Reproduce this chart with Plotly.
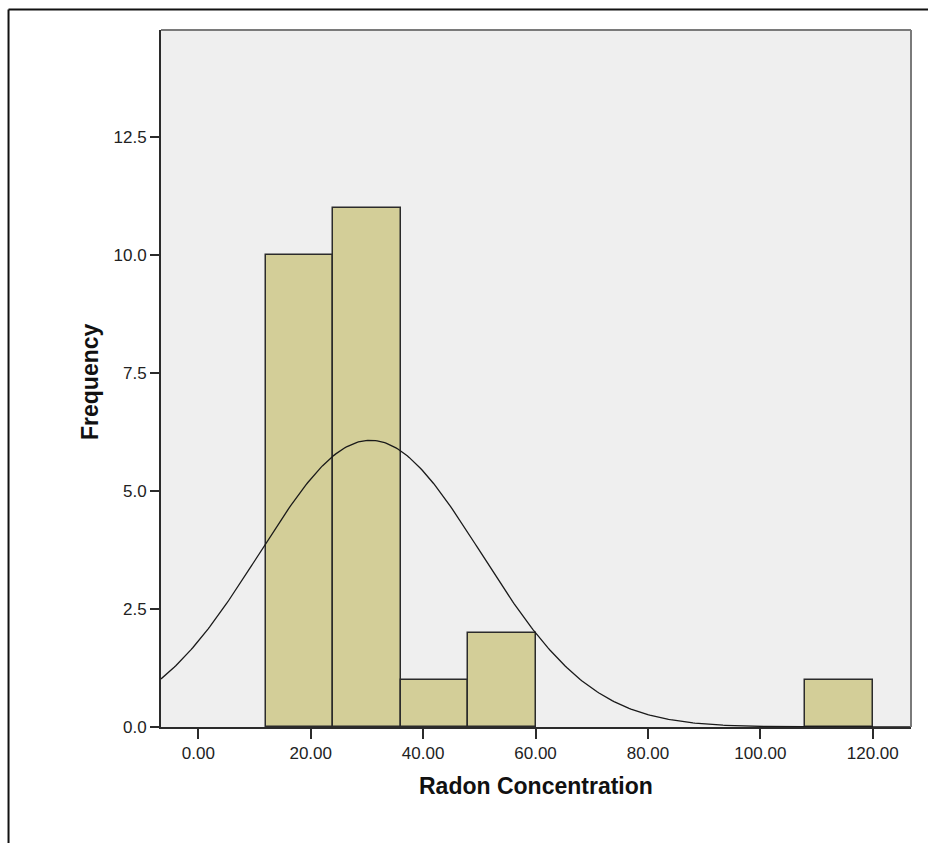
import numpy as np
import plotly.graph_objects as go

# Histogram bins (left edges), bin width and counts
bin_left = [12, 24, 36, 48, 108]
bin_width = 12
counts = [10, 11, 1, 2, 1]

# Normal curve parameters for the fitted overlay
n_total = 25
mean_val = 30.6
sd_val = 19.7

x_ticks = [0, 20, 40, 60, 80, 100, 120]
x_tick_text = ["0.00", "20.00", "40.00", "60.00", "80.00", "100.00", "120.00"]
y_ticks = [0, 2.5, 5, 7.5, 10, 12.5]
y_tick_text = ["0.0", "2.5", "5.0", "7.5", "10.0", "12.5"]

x_range = [-6.64, 126.8]
y_range = [0, 14.77]

centers = [b + bin_width / 2 for b in bin_left]

xs = np.linspace(x_range[0], x_range[1], 400)
ys = n_total * bin_width / (sd_val * np.sqrt(2 * np.pi)) * np.exp(-0.5 * ((xs - mean_val) / sd_val) ** 2)

fig = go.Figure()
fig.add_trace(go.Bar(
    x=centers, y=counts, width=bin_width,
    marker=dict(color="#d3ce98", line=dict(color="#2b2b2b", width=1.5)),
    hoverinfo="x+y",
))
fig.add_trace(go.Scatter(
    x=xs, y=ys, mode="lines",
    line=dict(color="#1a1a1a", width=1.3),
    hoverinfo="skip",
))

axis_font = dict(family="Liberation Sans, Arial, sans-serif", size=17, color="#222222")
title_font = dict(family="Liberation Sans, Arial, sans-serif", size=23, color="#111111")

fig.update_layout(
    width=928, height=843,
    margin=dict(l=161, r=17, t=30, b=116),
    paper_bgcolor="white",
    plot_bgcolor="#efefef",
    showlegend=False,
    bargap=0,
    xaxis=dict(
        range=x_range, tickvals=x_ticks, ticktext=x_tick_text,
        showgrid=False, zeroline=False,
        showline=True, linecolor="#2b2b2b", linewidth=2,
        ticks="outside", ticklen=10, tickwidth=2, tickcolor="#2b2b2b",
        tickfont=axis_font,
    ),
    yaxis=dict(
        range=y_range, tickvals=y_ticks, ticktext=y_tick_text,
        showgrid=False, zeroline=False,
        showline=True, linecolor="#2b2b2b", linewidth=2,
        ticks="outside", ticklen=9, tickwidth=2, tickcolor="#2b2b2b",
        tickfont=axis_font,
    ),
    annotations=[
        dict(text="<b>Radon Concentration</b>", xref="paper", yref="paper",
             x=0.5, y=-0.0847, xanchor="center", yanchor="middle",
             showarrow=False, font=title_font),
        dict(text="<b>Frequency</b>", xref="paper", yref="paper",
             x=-0.0947, y=0.4964, xanchor="center", yanchor="middle",
             textangle=-90, showarrow=False, font=title_font),
    ],
    shapes=[
        # top and right border of the plotting frame
        dict(type="line", xref="paper", yref="paper", x0=0, x1=1, y0=1, y1=1,
             line=dict(color="#7a7a7a", width=2)),
        dict(type="line", xref="paper", yref="paper", x0=1, x1=1, y0=0, y1=1,
             line=dict(color="#7a7a7a", width=2)),
        # outer chart frame
        dict(type="line", xref="paper", yref="paper", x0=-0.2033, x1=1.1, y0=1.0294, y1=1.0294,
             line=dict(color="#111111", width=2)),
        dict(type="line", xref="paper", yref="paper", x0=-0.2033, x1=-0.2033, y0=-0.3, y1=1.0294,
             line=dict(color="#111111", width=2)),
    ],
)

fig.write_html("out.html")
